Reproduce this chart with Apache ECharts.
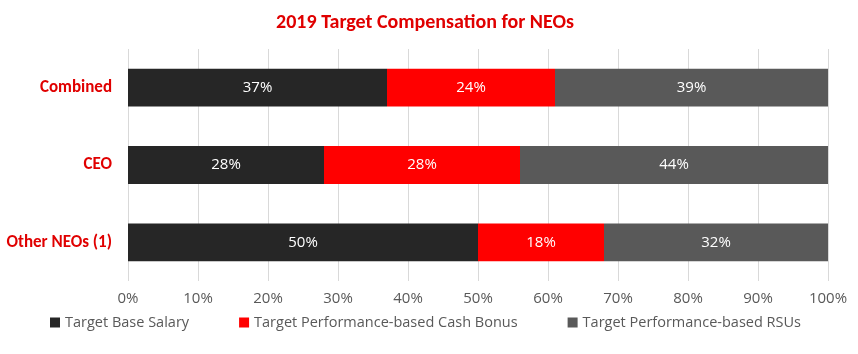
<!DOCTYPE html>
<html>
<head>
<meta charset="utf-8">
<script src="https://cdn.jsdelivr.net/npm/echarts@6/dist/echarts.min.js"></script>
<style>
  html, body { margin: 0; padding: 0; background: #fff; }
  #chart { width: 858px; height: 354px; }
</style>
</head>
<body>
<div id="chart"></div>
<script>
// data
var categories = ["Other NEOs (1)", "CEO", "Combined"];
var baseSalary = [50, 28, 37];
var cashBonus = [18, 28, 24];
var rsus = [32, 44, 39];
var seriesNames = ["Target Base Salary", "Target Performance-based Cash Bonus", "Target Performance-based RSUs"];

var boldFont = "Calibri, Carlito, Lato, sans-serif";
var font = "'Segoe UI', 'Open Sans', sans-serif";

function barSeries(name, values, color) {
  return {
    name: name,
    type: "bar",
    stack: "total",
    barWidth: "49%",
    data: values,
    itemStyle: { color: color },
    label: {
      show: true,
      position: "inside",
      color: "#fff",
      fontSize: 15,
      fontFamily: font,
      formatter: function(p) { return p.value + "%"; }
    }
  };
}

var chart = echarts.init(document.getElementById("chart"));
chart.setOption({
  animation: false,
  title: {
    text: "2019 Target Compensation for NEOs",
    left: 420,
    top: 8,
    textAlign: "center",
    textStyle: { color: "#E00000", fontSize: 20, fontWeight: "bold", fontFamily: boldFont }
  },
  grid: { left: 128, right: 30, top: 49, bottom: 73, containLabel: false },
  legend: {
    bottom: 19,
    left: 45,
    itemWidth: 10,
    itemHeight: 10,
    itemGap: 50,
    icon: "rect",
    textStyle: { color: "#595959", fontSize: 14.5, fontFamily: font },
    data: seriesNames
  },
  xAxis: {
    type: "value",
    min: 0,
    max: 100,
    interval: 10,
    axisLine: { show: false },
    axisTick: { show: false },
    axisLabel: { color: "#595959", fontSize: 15, fontFamily: font, margin: 10,
      formatter: "{value}%" },
    splitLine: { lineStyle: { color: "#D9D9D9" } }
  },
  yAxis: {
    type: "category",
    data: categories,
    axisLine: { show: false },
    axisTick: { show: false },
    axisLabel: { color: "#E00000", fontSize: 17, fontWeight: "bold", fontFamily: boldFont, margin: 16 }
  },
  series: [
    barSeries(seriesNames[0], baseSalary, "#262626"),
    barSeries(seriesNames[1], cashBonus, "#FF0000"),
    barSeries(seriesNames[2], rsus, "#595959")
  ]
});
</script>
</body>
</html>
